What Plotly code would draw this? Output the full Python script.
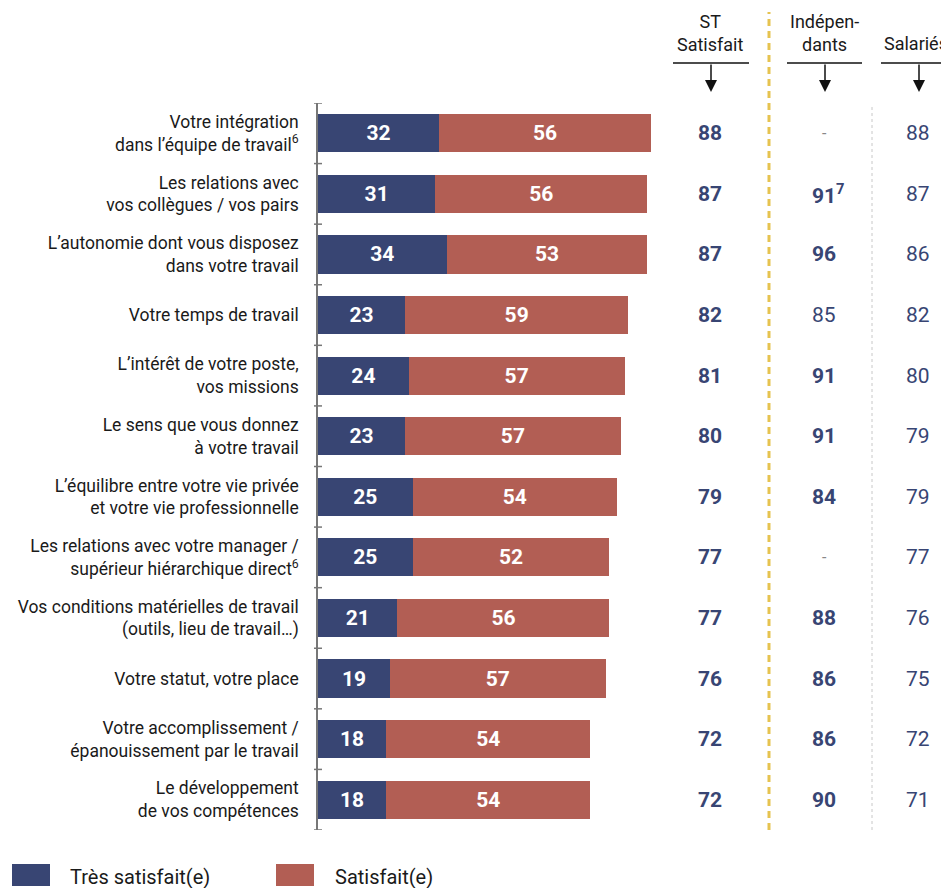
import plotly.graph_objects as go

categories = [
    "Votre intégration<br>dans l’équipe de travail<sup>6</sup>",
    "Les relations avec<br>vos collègues / vos pairs",
    "L’autonomie dont vous disposez<br>dans votre travail",
    "Votre temps de travail",
    "L’intérêt de votre poste,<br>vos missions",
    "Le sens que vous donnez<br>à votre travail",
    "L’équilibre entre votre vie privée<br>et votre vie professionnelle",
    "Les relations avec votre manager /<br>supérieur hiérarchique direct<sup>6</sup>",
    "Vos conditions matérielles de travail<br>(outils, lieu de travail…)",
    "Votre statut, votre place",
    "Votre accomplissement /<br>épanouissement par le travail",
    "Le développement<br>de vos compétences",
]
tres_satisfait = [32, 31, 34, 23, 24, 23, 25, 25, 21, 19, 18, 18]
satisfait = [56, 56, 53, 59, 57, 57, 54, 52, 56, 57, 54, 54]
st_satisfait = [88, 87, 87, 82, 81, 80, 79, 77, 77, 76, 72, 72]
independants = ["-", "91<sup>7</sup>", "96", "85", "91", "91", "84", "-", "88", "86", "86", "90"]
indep_bold = [False, True, True, False, True, True, True, False, True, True, True, True]
salaries = [88, 87, 86, 82, 80, 79, 79, 77, 76, 75, 72, 71]
headers = ["ST<br>Satisfait", "Indépen-<br>dants", "Salariés"]
legend_names = ["Très satisfait(e)", "Satisfait(e)"]

NAVY = "#384573"
RED = "#B25E54"
FONT = "Roboto, sans-serif"

OFF = 8  # page body margin
W, H = 941, 880
L, R, T, B = 310, 0, 95, 58
PW, PH = W - L - R, H - T - B
PX_PER_UNIT = 333 / 88.0


def px_x(p):
    return (p - OFF - L) / PW


def px_y(p):
    return (H - B - (p - OFF)) / PH


fig = go.Figure()
for vals, col, name in [(tres_satisfait, NAVY, legend_names[0]), (satisfait, RED, legend_names[1])]:
    fig.add_trace(go.Bar(
        y=categories, x=vals, orientation="h", name=name,
        marker=dict(color=col, line=dict(width=0)),
        text=[str(v) for v in vals], textposition="inside", insidetextanchor="middle",
        textfont=dict(family=FONT, size=21, color="white", weight="bold"),
    ))

shapes = []
annotations = []

# axis boundary ticks crossing the axis line
for i in range(len(categories) + 1):
    shapes.append(dict(type="line", xref="paper", yref="y",
                       x0=px_x(314), x1=px_x(322), y0=i - 0.5, y1=i - 0.5,
                       line=dict(color="#777777", width=1.5)))


def ann(x, y, text, font, yref="y", **kw):
    d = dict(xref="paper", yref=yref, x=x, y=y, text=text, showarrow=False,
             xanchor="center", yanchor="middle", font=font)
    d.update(kw)
    annotations.append(d)


# right-side columns
col_x = [710, 824, 918]
for i, cat in enumerate(categories):
    ann(px_x(col_x[0]), cat, f"<b>{st_satisfait[i]}</b>", dict(family=FONT, size=21, color=NAVY))
    iv = independants[i]
    if iv == "-":
        ann(px_x(col_x[1]), cat, "-", dict(family=FONT, size=16, color="#888888"))
    else:
        t = f"<b>{iv}</b>" if indep_bold[i] else iv
        xa = col_x[1] + (4 if "sup" in iv else 0)
        ann(px_x(xa), cat, t, dict(family=FONT, size=21, color=NAVY))
    ann(px_x(col_x[2]), cat, str(salaries[i]), dict(family=FONT, size=21, color=NAVY))

# headers
hdr_y = [33, 33, 44]
hdr_x = [710, 824, 916]
line_spans = [(673, 749), (787, 862), (881, 960)]
for k in range(3):
    ann(px_x(hdr_x[k]), px_y(hdr_y[k]), headers[k],
        dict(family=FONT, size=18, color="#1a1a1a"), yref="paper", align="center")
    shapes.append(dict(type="line", xref="paper", yref="paper",
                       x0=px_x(line_spans[k][0]), x1=px_x(line_spans[k][1]),
                       y0=px_y(63), y1=px_y(63), line=dict(color="#111111", width=1.5)))
    annotations.append(dict(xref="paper", yref="paper", x=px_x(col_x[k] + 1), y=px_y(92),
                            ax=0, ay=-29, text="", showarrow=True, arrowhead=2,
                            arrowsize=1.6, arrowwidth=1.5, arrowcolor="#111111"))

# separators
shapes.append(dict(type="line", xref="paper", yref="paper",
                   x0=px_x(769), x1=px_x(769), y0=px_y(830), y1=px_y(12),
                   line=dict(color="#E6C350", width=3, dash="7px,5px")))
shapes.append(dict(type="line", xref="paper", yref="paper",
                   x0=px_x(872), x1=px_x(872), y0=px_y(830), y1=px_y(104),
                   line=dict(color="#C8C8C8", width=1, dash="3px,3px")))

# legend
leg = [(12, 50, 68, NAVY), (276, 314, 333, RED)]
for k, (x0, x1, tx, col) in enumerate(leg):
    shapes.append(dict(type="rect", xref="paper", yref="paper",
                       x0=px_x(x0), x1=px_x(x1), y0=px_y(886), y1=px_y(864),
                       fillcolor=col, line=dict(width=0)))
    ann(px_x(tx), px_y(877), legend_names[k], dict(family=FONT, size=20, color="#1a1a1a"),
        yref="paper", xanchor="left")

fig.update_layout(
    width=W, height=H, barmode="stack", bargap=0.37,
    margin=dict(l=L, r=R, t=T, b=B, autoexpand=False),
    plot_bgcolor="white", paper_bgcolor="white", showlegend=False,
    font=dict(family=FONT, size=17.5, color="#1a1a1a"),
    xaxis=dict(range=[0, PW / PX_PER_UNIT], visible=False, fixedrange=True),
    yaxis=dict(type="category", range=[len(categories) - 0.5, -0.5],
               showline=True, linecolor="#777777", linewidth=1.5,
               ticks="", ticklabelstandoff=14, showgrid=False,
               tickfont=dict(family=FONT, size=17.5, color="#1a1a1a")),
    shapes=shapes, annotations=annotations,
    uniformtext=dict(mode="show", minsize=10),
)

fig.write_html("out.html")
